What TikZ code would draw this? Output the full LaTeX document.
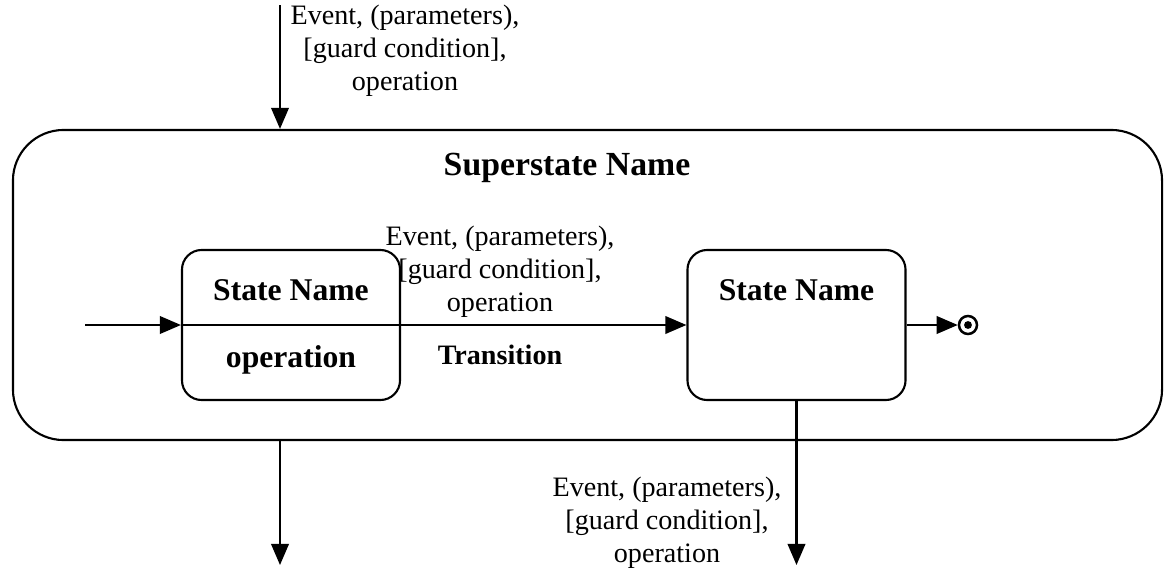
\documentclass[tikz,border=0pt]{standalone}
\usepackage{fontspec}
\setmainfont{Liberation Serif}
\usetikzlibrary{arrows.meta,positioning}

\begin{document}
\begin{tikzpicture}[x=0.025cm, y=-0.025cm,
    superbox/.style={rectangle, draw, line width=1.5pt, rounded corners=36pt,
                     minimum width=28.72cm, minimum height=7.75cm},
    statebox/.style={rectangle, draw, line width=1.5pt, rounded corners=14pt,
                     minimum width=5.45cm, minimum height=3.75cm},
    lbl/.style={align=center, inner sep=0pt,
                font=\fontsize{20}{23.5}\selectfont},
    ttl/.style={inner sep=0pt, font=\fontsize{22.5}{26}\selectfont\bfseries},
    flow/.style={line width=1.5pt, -{Triangle[length=15pt,width=12.5pt]}}
  ]
    \useasboundingbox (0,0) rectangle (1167,573);

    % Superstate
    \node[superbox] (super) at (587.5,285) {};
    \node[ttl, font=\fontsize{24}{28}\selectfont\bfseries]
      (supername) at (567,168) {Superstate Name};

    % States
    \node[statebox] (first) at (291,325) {};
    \node[ttl] (firstname) at (291,290) {State Name};
    \node[ttl] (firstop)   at (291,360) {operation};
    \draw[line width=1.5pt] (first.west) -- (first.east);

    \node[statebox] (second) at (796.5,325) {};
    \node[ttl] (secondname) at (796.5,290) {State Name};

    % Final state
    \node[circle, draw, line width=1.8pt, minimum size=0.45cm, inner sep=0pt]
      (final) at (968,325) {};
    \fill (final.center) circle (2.8pt);

    % Transitions
    \coordinate (start) at (85,325);
    \draw[flow] (start) -- (first.west);
    \draw[flow] (first.east) -- (second.west);
    \draw[flow] (second.east) -- (final.west);

    \coordinate (entry) at (280,5);
    \draw[flow] (entry) -- (entry |- super.north);
    \coordinate (exitA) at (280,565);
    \draw[flow] (exitA |- super.south) -- (exitA);
    \coordinate (exitB) at (796.5,565);
    \draw[flow] (second.south) -- (exitB);

    % Labels
    \node[lbl] (entrylbl) at (405,51)
      {Event, (parameters),\\ {[}guard condition],\\ operation};
    \node[lbl, anchor=south] (translbl) at (500,318)
      {Event, (parameters),\\ {[}guard condition],\\ operation};
    \node[ttl, font=\fontsize{20}{24}\selectfont\bfseries]
      (transname) at (500,355) {Transition};
    \node[lbl] (exitlbl) at (667,523)
      {Event, (parameters),\\ {[}guard condition],\\ operation};
  \end{tikzpicture}
\end{document}
